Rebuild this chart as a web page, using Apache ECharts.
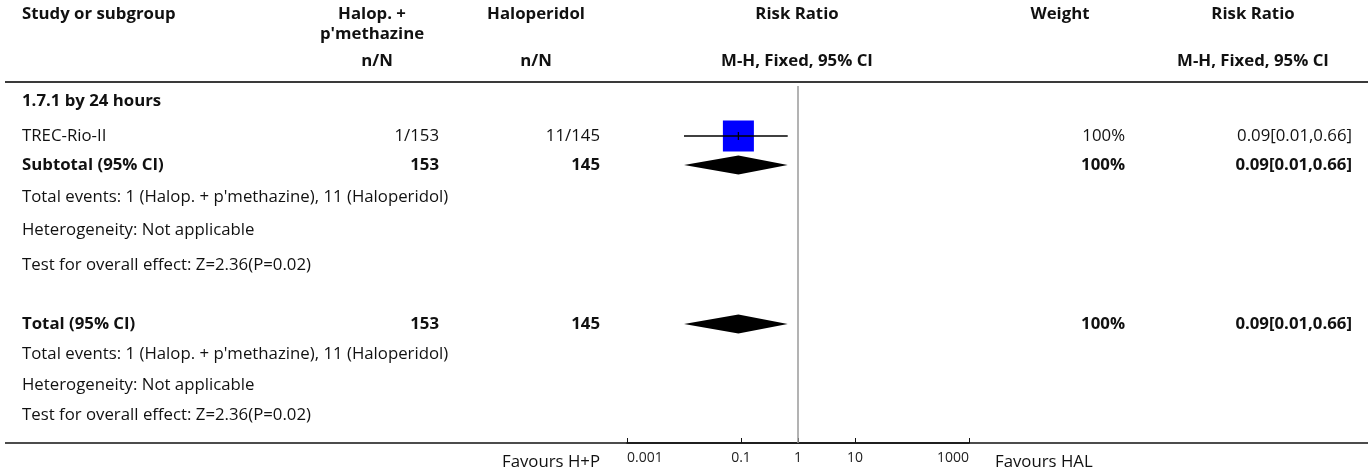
<!DOCTYPE html>
<html>
<head>
<meta charset="utf-8">
<script src="https://cdn.jsdelivr.net/npm/echarts@6/dist/echarts.min.js"></script>
<style>
  html, body { margin: 0; padding: 0; background: #ffffff; }
  #chart { width: 1370px; height: 472px; }
</style>
</head>
<body>
<div id="chart"></div>
<script>
// ---- Study-level data ----
const groupTitle = '1.7.1 by 24 hours';
const studyNames = ['TREC-Rio-II'];
const expEvents = [1];
const expTotal = [153];
const ctrlEvents = [11];
const ctrlTotal = [145];
const studyRR = [0.09];
const studyLo = [0.01];
const studyHi = [0.66];
const studyWeight = [100];

// ---- Pooled estimates (subtotal, overall total) ----
const pooledNames = ['Subtotal (95% CI)', 'Total (95% CI)'];
const pooledExpTotal = [153, 153];
const pooledCtrlTotal = [145, 145];
const pooledRR = [0.09, 0.09];
const pooledLo = [0.01, 0.01];
const pooledHi = [0.66, 0.66];
const pooledWeight = [100, 100];
const heterogeneityText = ['Not applicable', 'Not applicable'];
const overallZ = [2.36, 2.36];
const overallP = [0.02, 0.02];

// ---- Axis ----
const axisTicks = [0.001, 0.1, 1, 10, 1000];
const favoursLeft = 'Favours H+P';
const favoursRight = 'Favours HAL';
const expLabel = 'Halop. + p\'methazine';
const ctrlLabel = 'Haloperidol';

// ---- Layout ----
const FONT = '"Open Sans", "Noto Sans", sans-serif';
const FS = 16.8;
const col = { study: 22, exp: 439, ctrl: 600, weight: 1125, rr: 1352 };
const head = { exp: 372, ctrl: 536, plot: 797, weight: 1060, rr: 1253 };
const rowY = {
  group: 101, study: [136], subtotal: 165,
  sub: [197, 230, 265],
  total: 324,
  tot: [354, 385, 415]
};
const plotTop = 86, plotBottom = 443;

const fmt = v => v.toFixed(2);
const rrText = (e, l, h) => fmt(e) + '[' + fmt(l) + ',' + fmt(h) + ']';
const sum = a => a.reduce((s, v) => s + v, 0);

function txt(x, y, text, align, bold, size) {
  return {
    type: 'text', x: x, y: y, silent: true,
    style: {
      text: text, fill: '#111', font: (bold ? 'bold ' : '') + (size || FS) + 'px ' + FONT,
      textAlign: align, textVerticalAlign: 'middle'
    }
  };
}

const g = [];
// header
g.push(txt(col.study, 14, 'Study or subgroup', 'left', true));
g.push(txt(head.exp, 14, 'Halop. +', 'center', true));
g.push(txt(head.exp, 34, 'p\'methazine', 'center', true));
g.push(txt(head.ctrl, 14, ctrlLabel, 'center', true));
g.push(txt(head.plot, 14, 'Risk Ratio', 'center', true));
g.push(txt(head.weight, 14, 'Weight', 'center', true));
g.push(txt(head.rr, 14, 'Risk Ratio', 'center', true));
g.push(txt(head.exp + 5, 61, 'n/N', 'center', true));
g.push(txt(head.ctrl, 61, 'n/N', 'center', true));
g.push(txt(head.plot, 61, 'M-H, Fixed, 95% CI', 'center', true));
g.push(txt(head.rr, 61, 'M-H, Fixed, 95% CI', 'center', true));
g.push({ type: 'line', silent: true, shape: { x1: 5, y1: 82, x2: 1368, y2: 82 },
  style: { stroke: '#3a3a3a', lineWidth: 2 } });

// subgroup
g.push(txt(col.study, rowY.group, groupTitle, 'left', true));
studyNames.forEach((n, i) => {
  const y = rowY.study[i];
  g.push(txt(col.study, y, n, 'left', false));
  g.push(txt(col.exp, y, expEvents[i] + '/' + expTotal[i], 'right', false));
  g.push(txt(col.ctrl, y, ctrlEvents[i] + '/' + ctrlTotal[i], 'right', false));
  g.push(txt(col.weight, y, studyWeight[i] + '%', 'right', false));
  g.push(txt(col.rr, y, rrText(studyRR[i], studyLo[i], studyHi[i]), 'right', false));
});

// pooled rows and their footnotes
[rowY.subtotal, rowY.total].forEach((y, k) => {
  g.push(txt(col.study, y, pooledNames[k], 'left', true));
  g.push(txt(col.exp, y, String(pooledExpTotal[k]), 'right', true));
  g.push(txt(col.ctrl, y, String(pooledCtrlTotal[k]), 'right', true));
  g.push(txt(col.weight, y, pooledWeight[k] + '%', 'right', true));
  g.push(txt(col.rr, y, rrText(pooledRR[k], pooledLo[k], pooledHi[k]), 'right', true));
  const ys = k === 0 ? rowY.sub : rowY.tot;
  g.push(txt(col.study, ys[0], 'Total events: ' + sum(expEvents) + ' (' + expLabel + '), ' +
    sum(ctrlEvents) + ' (' + ctrlLabel + ')', 'left', false));
  g.push(txt(col.study, ys[1], 'Heterogeneity: ' + heterogeneityText[k], 'left', false));
  g.push(txt(col.study, ys[2], 'Test for overall effect: Z=' + overallZ[k].toFixed(2) +
    '(P=' + overallP[k].toFixed(2) + ')', 'left', false));
});

// bottom rule and favours labels
g.push({ type: 'line', silent: true, shape: { x1: 5, y1: plotBottom, x2: 1368, y2: plotBottom },
  style: { stroke: '#111', lineWidth: 1.5 } });
g.push(txt(600, 462, favoursLeft, 'right', false));
g.push(txt(995, 462, favoursRight, 'left', false));

const studyData = studyNames.map((n, i) =>
  [studyRR[i], studyLo[i], studyHi[i], rowY.study[i], studyWeight[i]]);
const pooledData = [rowY.subtotal, rowY.total].map((y, k) =>
  [pooledRR[k], pooledLo[k], pooledHi[k], y, pooledWeight[k]]);

const chart = echarts.init(document.getElementById('chart'), null, { renderer: 'canvas' });
chart.setOption({
  animation: false,
  backgroundColor: '#ffffff',
  grid: { left: 627, right: 1370 - 969, top: plotTop, bottom: 472 - plotBottom },
  xAxis: {
    type: 'log', logBase: 10, min: 0.001, max: 1000,
    axisLine: { show: true, onZero: false, lineStyle: { color: '#111', width: 1.5 } },
    axisTick: { show: true, inside: true, length: 5, customValues: axisTicks,
      lineStyle: { color: '#111', width: 1 } },
    axisLabel: { show: true, customValues: axisTicks, margin: 8,
      alignMinLabel: 'left', alignMaxLabel: 'right',
      fontFamily: FONT, fontSize: 14, color: '#222',
      formatter: v => String(+v.toPrecision(6)) },
    splitLine: { show: false }
  },
  yAxis: {
    type: 'value', min: plotTop, max: plotBottom, inverse: true, show: false,
    splitLine: { show: false }
  },
  series: [
    {
      type: 'custom', name: 'studies', data: studyData, silent: true,
      renderItem: (params, api) => {
        const y = api.value(3);
        const est = api.coord([api.value(0), y]);
        const lo = api.coord([api.value(1), y]);
        const hi = api.coord([api.value(2), y]);
        const side = Math.sqrt(api.value(4) / 100) * 31;
        return { type: 'group', children: [
          { type: 'rect', shape: { x: est[0] - side / 2, y: est[1] - side / 2, width: side, height: side },
            style: { fill: '#0000ff' } },
          { type: 'line', shape: { x1: lo[0], y1: lo[1], x2: hi[0], y2: hi[1] },
            style: { stroke: '#000', lineWidth: 1.3 } },
          { type: 'line', shape: { x1: est[0], y1: est[1] - 4, x2: est[0], y2: est[1] + 4 },
            style: { stroke: '#000', lineWidth: 1.3 } }
        ] };
      },
      markLine: {
        silent: true, symbol: 'none', label: { show: false },
        lineStyle: { color: '#9a9a9a', width: 1.5, type: 'solid' },
        data: [{ xAxis: 1 }]
      }
    },
    {
      type: 'custom', name: 'pooled', data: pooledData, silent: true,
      renderItem: (params, api) => {
        const y = api.value(3);
        const est = api.coord([api.value(0), y]);
        const lo = api.coord([api.value(1), y]);
        const hi = api.coord([api.value(2), y]);
        const h = 9.5;
        return { type: 'polygon',
          shape: { points: [[lo[0], lo[1]], [est[0], est[1] - h], [hi[0], hi[1]], [est[0], est[1] + h]] },
          style: { fill: '#000' } };
      }
    }
  ],
  graphic: g
});
</script>
</body>
</html>
